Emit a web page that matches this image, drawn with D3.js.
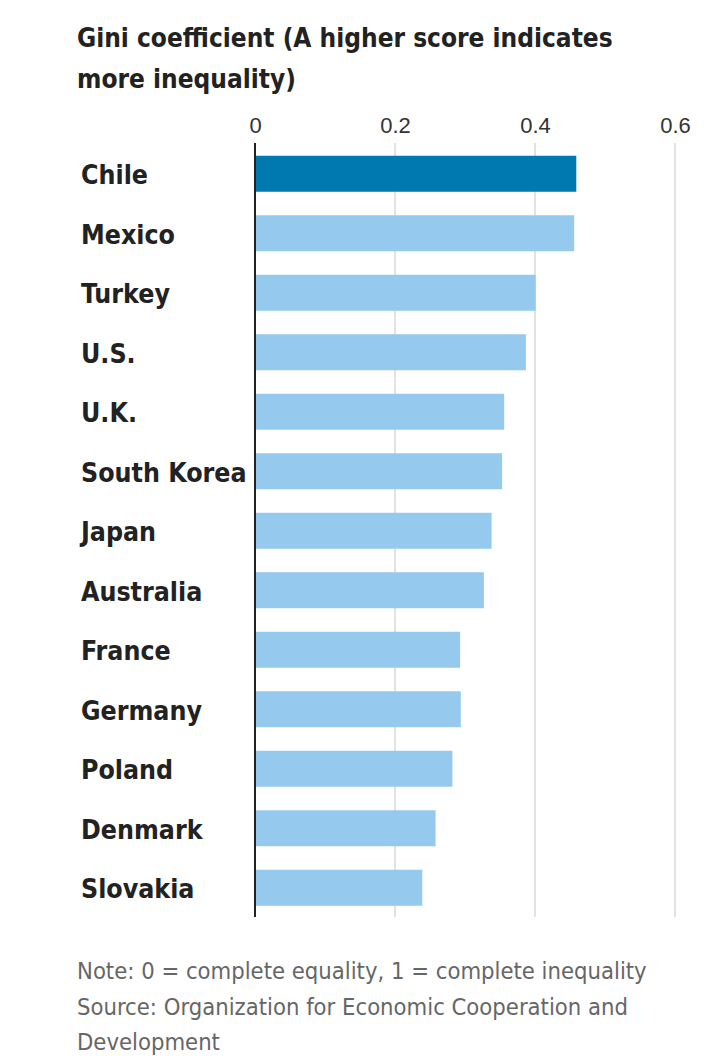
<!DOCTYPE html>
<html>
<head>
<meta charset="utf-8">
<script src="https://cdn.jsdelivr.net/npm/d3@7"></script>
<style>
body { margin: 0; background: #fff; }
svg { display: block; font-family: "Liberation Sans Narrow", "DejaVu Sans Condensed", "Roboto", sans-serif; }
</style>
</head>
<body>
<svg id="chart" width="704" height="1056"></svg>
<script>
var countries = ["Chile", "Mexico", "Turkey", "U.S.", "U.K.", "South Korea", "Japan",
                 "Australia", "France", "Germany", "Poland", "Denmark", "Slovakia"];
var gini = [0.459, 0.456, 0.401, 0.387, 0.356, 0.353, 0.338, 0.327, 0.293, 0.294, 0.282, 0.258, 0.239];
var tickVals = [0, 0.2, 0.4, 0.6];
var tickLabels = ["0", "0.2", "0.4", "0.6"];
var titleLines = ["Gini coefficient (A higher score indicates", "more inequality)"];
var noteLines = ["Note: 0 = complete equality, 1 = complete inequality",
                 "Source: Organization for Economic Cooperation and",
                 "Development"];

var svg = d3.select("#chart");

var x = d3.scaleLinear().domain([0, 0.6]).range([255, 675]);
var y = d3.scaleBand().domain(countries).range([144, 917.5])
    .paddingInner(0.395).paddingOuter(0.1975);

// title
svg.append("g").selectAll("text").data(titleLines).enter().append("text")
    .attr("x", 77)
    .attr("y", function(d, i){ return 47 + i * 41 })
    .attr("font-size", 26)
    .attr("font-weight", "bold")
    .attr("fill", "#222")
    .text(function(d){ return d });

// gridlines
svg.append("g").selectAll("line").data(tickVals.slice(1)).enter().append("line")
    .attr("x1", function(d){ return x(d) })
    .attr("x2", function(d){ return x(d) })
    .attr("y1", 143)
    .attr("y2", 917)
    .attr("stroke", "#e2e2e2")
    .attr("stroke-width", 2);

// top axis labels
var axis = d3.axisTop(x)
    .tickValues(tickVals)
    .tickFormat(function(d, i){ return tickLabels[i] })
    .tickSize(0)
    .tickPadding(10);
var ax = svg.append("g").attr("transform", "translate(0,143)").call(axis);
ax.select(".domain").remove();
ax.selectAll("text")
    .attr("font-size", 22)
    .attr("fill", "#333")
    .style("font-family", "inherit");

// bars
svg.append("g").selectAll("rect").data(gini).enter().append("rect")
    .attr("x", x(0))
    .attr("y", function(d, i){ return y(countries[i]) })
    .attr("width", function(d){ return x(d) - x(0) })
    .attr("height", y.bandwidth())
    .attr("fill", function(d, i){ return i == 0 ? "#0078b0" : "#95caee" });

// zero line
svg.append("line")
    .attr("x1", x(0)).attr("x2", x(0))
    .attr("y1", 143).attr("y2", 917)
    .attr("stroke", "#222")
    .attr("stroke-width", 2);

// country labels
svg.append("g").selectAll("text").data(countries).enter().append("text")
    .attr("x", 81)
    .attr("y", function(d){ return y(d) + y.bandwidth() / 2 })
    .attr("dy", "0.4em")
    .attr("font-size", 26.5)
    .attr("font-weight", "bold")
    .attr("fill", "#222")
    .text(function(d){ return d });

// notes
svg.append("g").selectAll("text").data(noteLines).enter().append("text")
    .attr("x", 77)
    .attr("y", function(d, i){ return 979 + i * 35.5 })
    .attr("font-size", 23.6)
    .attr("fill", "#666")
    .text(function(d){ return d });
</script>
</body>
</html>
